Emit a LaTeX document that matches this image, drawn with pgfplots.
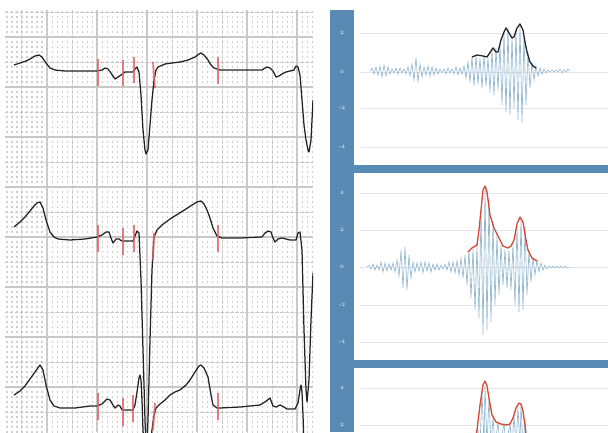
\documentclass[border=0pt]{standalone}
\usepackage{pgfplots}
\pgfplotsset{compat=1.18}
\definecolor{barblue}{RGB}{88,138,180}
\definecolor{sig}{RGB}{148,184,210}
\definecolor{mk}{RGB}{232,92,96}
\definecolor{env}{RGB}{212,72,52}
\definecolor{gline}{RGB}{200,200,200}
\definecolor{gdot}{RGB}{208,208,208}
\definecolor{rgrid}{RGB}{226,230,234}
\definecolor{ticklab}{RGB}{205,222,236}
\definecolor{ecg}{RGB}{34,34,34}
\begin{document}
\begin{tikzpicture}[x=1pt,y=1pt]
\path[use as bounding box, fill=white] (0,0) rectangle (608,432);
\fill[barblue] (330,0) rectangle (354,422);
\fill[barblue] (354,259) rectangle (608,267);
\fill[barblue] (354,64) rectangle (608,72);
% ---------------- left: ECG ----------------
\begin{axis}[at={(5pt,0pt)}, anchor=south west, scale only axis,
  width=308pt, height=422pt,
  xmin=5, xmax=313, ymin=10, ymax=432, y dir=reverse,
  axis line style={draw=none}, tick style={draw=none},
  xticklabel={\relax}, yticklabel={\relax},
  xtick={47,97,147,197,247,297}, ytick={37,87,137,187,237,287,337,387},
  minor ytick={12,17,...,432},
  xmajorgrids, ymajorgrids, yminorgrids,
  major grid style={gline, line width=1.1pt},
  minor grid style={gdot, line width=1.05pt, dash pattern=on 1.05pt off 3.95pt, dash phase=3.5pt},
  extra x ticks={22,72,122,172,222,272},
  extra y ticks={12,62,112,162,212,262,312,362,412},
  extra x tick labels={\relax}, extra y tick labels={\relax},
  extra tick style={grid=major, major grid style={gline, line width=1pt, dash pattern=on 3.5pt off 1.5pt}, xticklabel={\relax}, yticklabel={\relax}},
]
% trace 1
\addplot[ecg, line width=1.25pt, line join=round] coordinates {
(14,65) (20,63) (26,61) (30,59) (35,56) (39,55) (42,57) (46,63) (50,68) (55,70) (65,71) (80,71) (97,71) (102,70) (105,68) (108,69) (111,73) (115,79) (118,77) (121,75) (125,72) (130,72) (133,72) (135,69) (137,67) (139,72) (141,95) (143,130) (145,150) (146,154) (148,150) (150,125) (152,100) (154,80) (156,70) (158,67) (165,64) (172,63) (180,62) (188,60) (195,57) (199,54) (201,53) (204,55) (208,60) (211,65) (214,68) (220,70) (240,70) (262,70) (265,68) (267,67) (270,68) (273,71) (276,77) (279,76) (282,74) (286,72) (290,71) (294,70) (296,66) (298,67) (300,75) (302,100) (304,125) (306,140) (308,150) (309,152) (311,140) (313,100)
};
% trace 2
\addplot[ecg, line width=1.25pt, line join=round] coordinates {
(14,227) (20,222) (25,217) (30,211) (34,206) (37,203) (40,202) (43,208) (46,220) (50,232) (54,237) (58,239) (70,240) (85,239) (97,237) (102,235) (106,232) (109,232) (111,238) (113,243) (116,239) (119,239) (122,241) (126,241) (133,241) (135,236) (137,231) (139,233) (141,280) (143,350) (145,420) (146,445) (147,445) (148,420) (150,340) (152,270) (154,237) (157,230) (162,225) (170,219) (178,214) (186,209) (192,205) (197,202) (201,201) (204,204) (207,210) (210,218) (213,228) (217,236) (222,238) (240,238) (262,237) (265,233) (268,231) (271,232) (273,238) (275,242) (278,239) (282,238) (290,240) (296,240) (298,233) (300,232) (302,250) (304,330) (306,390) (307,402) (309,380) (311,320) (313,273)
};
% trace 3
\addplot[ecg, line width=1.25pt, line join=round] coordinates {
(14,395) (20,391) (25,386) (30,379) (35,372) (40,365) (43,370) (46,385) (50,400) (54,406) (60,408) (75,408) (90,406) (97,406) (102,404) (107,399) (110,400) (113,405) (115,408) (118,405) (120,406) (122,410) (126,410) (133,410) (135,405) (137,392) (139,378) (140,375) (141,380) (142,400) (143,430) (144,445) (150,445) (152,430) (154,415) (156,408) (160,404) (165,400) (170,395) (175,392) (180,390) (186,385) (190,380) (195,372) (199,366) (201,365) (204,368) (208,377) (211,395) (213,405) (217,408) (220,408) (240,407) (260,405) (265,402) (270,398) (273,406) (276,407) (280,405) (284,407) (287,409) (295,409) (298,403) (300,390) (301,385) (302,392) (303,415) (304,445)
};
% red markers
\addplot[mk, line width=1.8pt, opacity=0.8] coordinates {
(98,59) (98,86)

(123,60) (123,86)

(134,57) (134,83)

(153,62) (155,88)

(218,57) (218,84)

(98,225) (98,252)

(123,228) (123,255)

(134,225) (134,252)

(154,233) (153,260)

(218,225) (218,252)

(98,393) (98,420)

(123,398) (123,426)

(133,395) (133,422)

(155,403) (153,430)

(218,393) (218,420)
};
\end{axis}
% ---------------- right panel 1 ----------------
\begin{axis}[at={(360pt,267pt)}, anchor=south west, scale only axis,
  width=248pt, height=155pt,
  xmin=360, xmax=608, ymin=10, ymax=165, y dir=reverse,
  axis line style={draw=none}, major tick length=0pt, xtick=\empty,
  ytick={33,72,108,147}, yticklabels={2,0,-2,-4},
  ymajorgrids, major grid style={rgrid, line width=1pt},
  yticklabel style={font=\fontsize{5}{5}\selectfont\bfseries, text=ticklab, anchor=center, xshift=-18pt},
]
\addplot[sig, line width=0.65pt] coordinates {
(370,71) (372,68) (374,74) (376,67) (378,75) (380,66) (382,77) (384,65) (386,76) (388,67) (390,74) (392,69) (394,73) (396,68) (398,74) (400,68) (402,73) (404,69) (406,74) (408,67) (410,76) (412,64) (414,80) (416,58) (418,82) (420,64) (422,77) (424,67) (426,75) (428,66) (430,76) (432,67) (434,75) (436,68) (438,74) (440,69) (442,73) (444,69) (446,74) (448,68) (450,73) (452,69) (454,74) (456,67) (458,75) (460,68) (462,74) (464,66) (466,78) (468,62) (470,82) (472,57) (474,86) (476,56) (478,84) (480,58) (482,88) (484,55) (486,86) (488,58) (490,92) (492,50) (494,95) (496,48) (498,90) (500,45) (502,105) (504,33) (506,112) (508,28) (510,115) (512,36) (514,108) (516,30) (518,120) (520,25) (522,122) (524,36) (526,105) (528,52) (530,88) (532,62) (534,80) (536,66) (538,76) (540,68) (542,74) (544,69) (546,73) (548,70) (550,72) (552,70) (554,72) (556,70) (558,72) (560,69) (562,73) (564,70) (566,72) (568,69) (570,71)
};
\addplot[black!85, line width=1.3pt, line join=round] coordinates {
(472,57) (477,55) (483,56) (487,57) (491,51) (493,48) (496,52) (498,52) (501,40) (504,32) (506,28) (509,33) (512,38) (514,37) (517,28) (520,24) (523,30) (525,42) (527,52) (530,62) (533,66) (536,68)
};
\end{axis}
% ---------------- right panel 2 ----------------
\begin{axis}[at={(360pt,72pt)}, anchor=south west, scale only axis,
  width=248pt, height=187pt,
  xmin=360, xmax=608, ymin=173, ymax=360, y dir=reverse,
  axis line style={draw=none}, major tick length=0pt, xtick=\empty,
  ytick={193,230,267,305,342}, yticklabels={4,2,0,-2,-4},
  ymajorgrids, major grid style={rgrid, line width=1pt},
  yticklabel style={font=\fontsize{5}{5}\selectfont\bfseries, text=ticklab, anchor=center, xshift=-18pt},
]
\addplot[sig, line width=0.65pt] coordinates {
(367,267) (369,265) (371,269) (373,264) (375,270) (377,265) (379,270) (381,262) (383,272) (385,263) (387,271) (389,264) (391,270) (393,263) (395,272) (397,260) (399,276) (401,250) (403,288) (405,247) (407,290) (409,255) (411,278) (413,262) (415,272) (417,263) (419,271) (421,262) (423,273) (425,262) (427,271) (429,263) (431,272) (433,264) (435,270) (437,264) (439,270) (441,265) (443,269) (445,264) (447,270) (449,262) (451,272) (453,262) (455,273) (457,261) (459,275) (461,258) (463,278) (465,255) (467,285) (469,250) (471,298) (473,249) (475,310) (477,246) (479,318) (481,212) (483,335) (485,190) (487,330) (489,198) (491,322) (493,222) (495,305) (497,235) (499,295) (501,245) (503,285) (505,249) (507,288) (509,250) (511,290) (513,244) (515,305) (517,226) (519,312) (521,219) (523,310) (525,226) (527,295) (529,250) (531,282) (533,257) (535,275) (537,260) (539,272) (541,263) (543,270) (545,265) (547,269) (549,266) (551,268) (553,266) (555,268) (557,266) (559,268) (561,266) (563,268) (565,266) (567,268) (569,267)
};
\addplot[env, line width=1.3pt, line join=round] coordinates {
(468,252) (472,248) (477,245) (479,230) (481,210) (483,190) (485,186) (487,192) (490,215) (494,228) (497,234) (500,240) (503,246) (508,248) (511,246) (514,240) (517,224) (520,217) (523,222) (526,240) (528,250) (532,258) (537,261)
};
\end{axis}
% ---------------- right panel 3 ----------------
\begin{axis}[at={(360pt,0pt)}, anchor=south west, scale only axis,
  width=248pt, height=64pt,
  xmin=360, xmax=608, ymin=368, ymax=432, y dir=reverse,
  axis line style={draw=none}, major tick length=0pt, xtick=\empty,
  ytick={388,425}, yticklabels={4,2},
  ymajorgrids, major grid style={rgrid, line width=1pt},
  yticklabel style={font=\fontsize{5}{5}\selectfont\bfseries, text=ticklab, anchor=center, xshift=-18pt},
]
\addplot[sig, line width=0.65pt] coordinates {
(476,445) (478,430) (480,445) (482,392) (484,445) (485,386) (487,445) (489,398) (491,445) (493,418) (495,445) (498,422) (500,445) (504,424) (506,445) (510,424) (512,445) (514,416) (516,445) (518,408) (520,445) (521,405) (523,445) (525,420) (527,445)
};
\addplot[env, line width=1.3pt, line join=round] coordinates {
(474,445) (477,430) (480,405) (483,385) (485,381) (487,386) (489,398) (492,415) (496,422) (501,424) (506,425) (510,424) (513,418) (516,408) (519,403) (521,404) (523,411) (525,425) (527,445)
};
\end{axis}
\end{tikzpicture}
\end{document}
